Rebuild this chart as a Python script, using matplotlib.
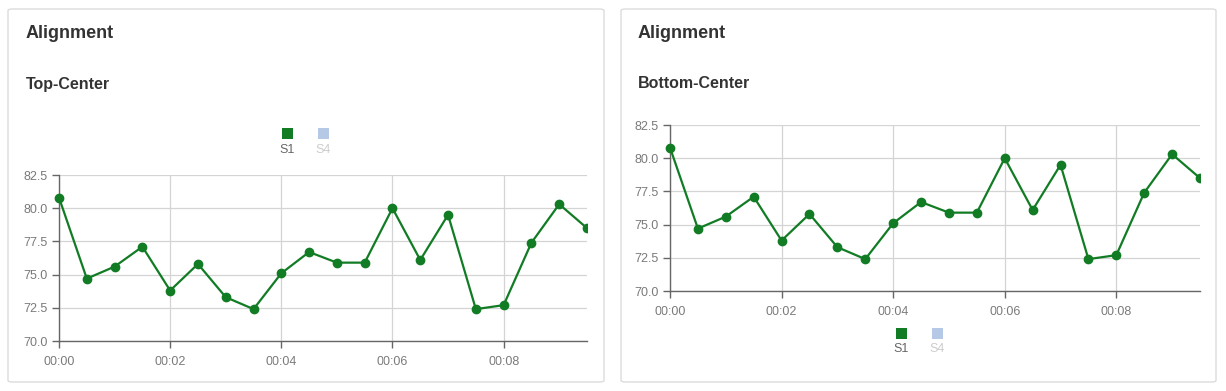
import matplotlib
matplotlib.use("Agg")
import matplotlib.pyplot as plt
from matplotlib.patches import FancyBboxPatch, Rectangle
from matplotlib.ticker import FixedLocator, FuncFormatter

# ---- data ----
minutes = [0, 0.5, 1, 1.5, 2, 2.5, 3, 3.5, 4, 4.5, 5, 5.5, 6, 6.5, 7, 7.5, 8, 8.5, 9, 9.5]
s1 = [80.8, 74.7, 75.6, 77.1, 73.8, 75.8, 73.3, 72.4, 75.1, 76.7, 75.9, 75.9, 80.0, 76.1, 79.5, 72.4, 72.7, 77.4, 80.3, 78.5]
y_ticks = [70.0, 72.5, 75.0, 77.5, 80.0, 82.5]
x_ticks = [0, 2, 4, 6, 8]
legend_names = ["S1", "S4"]
card_title = "Alignment"
subtitles = ["Top-Center", "Bottom-Center"]

GREEN = "#127c25"
S4_COLOR = "#b5c9e6"
AXIS = "#666666"
GRID = "#d4d4d4"
TEXT = "#333333"

W, H = 1226, 391
plt.rcParams['font.family'] = ['Liberation Sans', 'DejaVu Sans']
fig = plt.figure(figsize=(W / 100, H / 100), dpi=100)


def fx(px):
    return px / W


def fy(py):
    return 1 - py / H


def card(x0, x1, y0, y1):
    p = FancyBboxPatch((fx(x0), fy(y1)), fx(x1 - x0), (y1 - y0) / H,
                       boxstyle="round,pad=0,rounding_size=0.004",
                       transform=fig.transFigure, facecolor="none",
                       edgecolor="#dcdcdc", linewidth=1.0, zorder=-5)
    fig.patches.append(p)


def legend(cx, sq_y, lab_y):
    xs = [cx - 18, cx + 18]
    cols = [GREEN, S4_COLOR]
    tcols = ["#666666", "#cccccc"]
    for x, c, tc, name in zip(xs, cols, tcols, legend_names):
        fig.patches.append(Rectangle((fx(x - 5.5), fy(sq_y + 5.5)), fx(11), 11 / H,
                                     transform=fig.transFigure, facecolor=c,
                                     edgecolor="none", zorder=2))
        fig.text(fx(x), fy(lab_y), name, ha="center", va="center", fontsize=9, color=tc)


def chart(left, right, top, bottom):
    ax = fig.add_axes([fx(left), fy(bottom), fx(right - left), (bottom - top) / H])
    ax.set_zorder(1)
    ax.set_facecolor("none")
    line, = ax.plot(minutes, s1, color=GREEN, linewidth=1.6, marker="o",
                    markersize=6, zorder=3)
    clip = Rectangle((-0.05, -0.05), 1.05, 1.1, transform=ax.transAxes)
    line.set_clip_path(clip)
    ax.set_xlim(0, 9.5)
    ax.set_ylim(70, 82.5)
    ax.yaxis.set_major_locator(FixedLocator(y_ticks))
    ax.xaxis.set_major_locator(FixedLocator(x_ticks))
    ax.yaxis.set_major_formatter(FuncFormatter(lambda v, p: f"{v:.1f}"))
    ax.xaxis.set_major_formatter(FuncFormatter(lambda v, p: f"00:{int(round(v)):02d}"))
    ax.grid(True, color=GRID, linewidth=0.9)
    ax.set_axisbelow(True)
    for s in ["top", "right"]:
        ax.spines[s].set_visible(False)
    for s in ["left", "bottom"]:
        ax.spines[s].set_color(AXIS)
        ax.spines[s].set_linewidth(1.0)
    ax.tick_params(axis="both", colors=AXIS, labelsize=9, length=5, width=1.0,
                   labelcolor="#7a7a7a")
    ax.tick_params(axis="y", pad=3)
    ax.tick_params(axis="x", pad=6)
    return ax


# left card
card(8, 604, 9, 382)
fig.text(fx(26), fy(33), card_title, fontsize=13, fontweight="bold", color=TEXT, va="center", ha="left")
fig.text(fx(26), fy(84), subtitles[0], fontsize=11.5, fontweight="bold", color=TEXT, va="center", ha="left")
legend(305, 133, 150)
chart(59, 587, 175, 341)

# right card
card(621, 1216, 9, 382)
fig.text(fx(638), fy(33), card_title, fontsize=13, fontweight="bold", color=TEXT, va="center", ha="left")
fig.text(fx(638), fy(84), subtitles[1], fontsize=11.5, fontweight="bold", color=TEXT, va="center", ha="left")
chart(670, 1200, 125, 291)
legend(919, 333, 349)

fig.savefig("out.png", dpi=100, facecolor="white")
